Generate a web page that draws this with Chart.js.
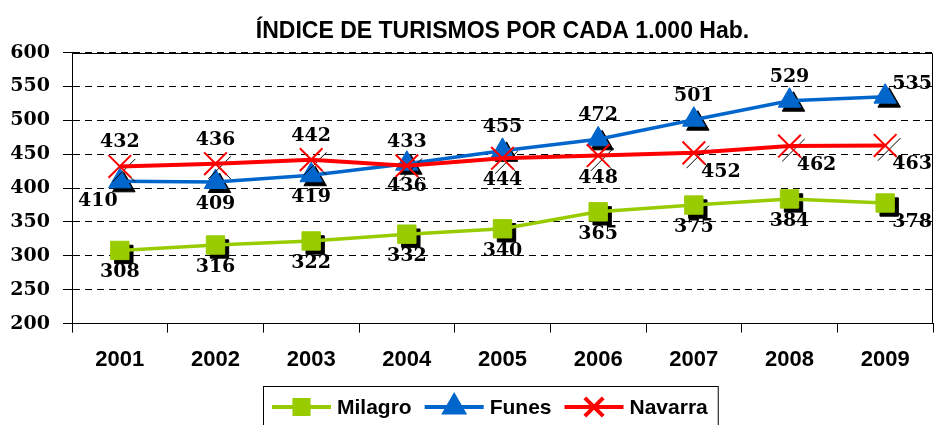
<!DOCTYPE html>
<html>
<head>
<meta charset="utf-8">
<script src="https://cdn.jsdelivr.net/npm/chart.js@4.4.0/dist/chart.umd.min.js"></script>
<style>
    html, body { margin: 0; padding: 0; background: #fff; }
    #wrap { width: 935px; height: 425px; }
</style>
</head>
<body>
<div id="wrap"><canvas id="chart-turismos" width="935" height="425"></canvas></div>
<script>
// values
const years = ['2001', '2002', '2003', '2004', '2005', '2006', '2007', '2008', '2009'];
const milagro = [308, 316, 322, 332, 340, 365, 375, 384, 378];
const funes = [410, 409, 419, 436, 455, 472, 501, 529, 535];
const navarra = [432, 436, 442, 433, 444, 448, 452, 462, 463];
const yMin = 200;
const yMax = 600;
const yStep = 50;
const title = 'ÍNDICE DE TURISMOS POR CADA 1.000 Hab.';

const SANS = '"Liberation Sans", Arial, sans-serif';
const SERIF = '"DejaVu Serif", serif';

// where each value label sits relative to its point
const labelOffsets = {
    t: [0, -24],
    b: [0, 22],
    rb: [27, 19],
    rt: [27, -13],
    lb: [-22, 20]
};

const shadowPoints = {
    id: 'shadowPoints',
    beforeDatasetDraw(chart, args) {
        const ctx = chart.ctx;
        ctx.save();
        ctx.fillStyle = '#000';
        ctx.strokeStyle = '#000';
        args.meta.data.forEach((el) => {
            const o = el.options;
            Chart.helpers.drawPoint(ctx, {
                pointStyle: o.pointStyle,
                radius: o.radius,
                borderWidth: o.borderWidth,
                rotation: o.rotation
            }, el.x + 4, el.y + 4);
        });
        ctx.restore();
    }
};

const plotFrame = {
    id: 'plotFrame',
    beforeDatasetsDraw(chart) {
        const {ctx, chartArea: a} = chart;
        ctx.save();
        ctx.strokeStyle = '#000';
        ctx.lineWidth = 1;
        ctx.beginPath();
        ctx.moveTo(a.left, Math.round(a.top) + 0.5);
        ctx.lineTo(Math.round(a.right) - 0.5, Math.round(a.top) + 0.5);
        ctx.lineTo(Math.round(a.right) - 0.5, a.bottom);
        ctx.stroke();
        ctx.restore();
    }
};

const valueLabels = {
    id: 'valueLabels',
    afterDatasetsDraw(chart) {
        const ctx = chart.ctx;
        ctx.save();
        ctx.font = 'bold 19px ' + SERIF;
        ctx.fillStyle = '#000';
        ctx.textAlign = 'center';
        ctx.textBaseline = 'middle';
        chart.data.datasets.forEach((ds, i) => {
            const meta = chart.getDatasetMeta(i);
            meta.data.forEach((el, j) => {
                const off = labelOffsets[ds.labelPos[j]];
                ctx.fillText(String(ds.data[j]), el.x + off[0], el.y + off[1]);
            });
        });
        ctx.restore();
    }
};

const boxLegend = {
    id: 'boxLegend',
    afterDraw(chart) {
        const ctx = chart.ctx;
        const sample = 59, gapText = 6, gapItem = 13, padL = 9, padR = 10;
        ctx.save();
        ctx.font = 'bold 21px ' + SANS;
        const items = chart.data.datasets.map((ds) => ({
            ds,
            w: ctx.measureText(ds.label).width
        }));
        let total = padL + padR;
        items.forEach((it, k) => {
            total += sample + gapText + it.w + (k < items.length - 1 ? gapItem : 0);
        });
        const a = chart.chartArea;
        const left = Math.round((a.left + a.right) / 2 - total / 2 - 12);
        const top = 386;
        const cy = 407;
        ctx.strokeStyle = '#000';
        ctx.lineWidth = 1;
        ctx.strokeRect(left + 0.5, top + 0.5, total, 60);
        let x = left + padL;
        items.forEach((it) => {
            const ds = it.ds;
            ctx.strokeStyle = ds.borderColor;
            ctx.lineWidth = 4;
            ctx.beginPath();
            ctx.moveTo(x, cy);
            ctx.lineTo(x + sample, cy);
            ctx.stroke();
            ctx.fillStyle = ds.pointBackgroundColor;
            ctx.strokeStyle = ds.pointBorderColor;
            Chart.helpers.drawPoint(ctx, {
                pointStyle: ds.pointStyle,
                radius: ds.legendRadius,
                borderWidth: ds.pointBorderWidth,
                rotation: 0
            }, x + sample / 2, cy);
            x += sample + gapText;
            ctx.fillStyle = '#000';
            ctx.textAlign = 'left';
            ctx.textBaseline = 'middle';
            ctx.fillText(ds.label, x, cy + 1);
            x += it.w + gapItem;
        });
        ctx.restore();
    }
};

const datasets = [{
    label: 'Milagro',
    data: milagro,
    borderColor: '#99CC00',
    backgroundColor: '#99CC00',
    borderWidth: 3.5,
    pointStyle: 'rect',
    pointRadius: 13,
    legendRadius: 10,
    pointBackgroundColor: '#99CC00',
    pointBorderColor: '#99CC00',
    pointBorderWidth: 1,
    labelPos: ['b', 'b', 'b', 'b', 'b', 'b', 'b', 'b', 'rb'],
    order: 2
}, {
    label: 'Funes',
    data: funes,
    borderColor: '#0066CC',
    backgroundColor: '#0066CC',
    borderWidth: 3.5,
    pointStyle: 'triangle',
    pointRadius: 13,
    legendRadius: 11,
    pointBackgroundColor: '#0066CC',
    pointBorderColor: '#0066CC',
    pointBorderWidth: 1,
    labelPos: ['lb', 'b', 'b', 'b', 't', 't', 't', 't', 'rt'],
    order: 1
}, {
    label: 'Navarra',
    data: navarra,
    borderColor: '#FF0000',
    backgroundColor: '#FF0000',
    borderWidth: 4,
    pointStyle: 'crossRot',
    pointRadius: 16,
    legendRadius: 13,
    pointBackgroundColor: '#FF0000',
    pointBorderColor: '#FF0000',
    pointBorderWidth: 2,
    labelPos: ['t', 't', 't', 't', 'b', 'b', 'rb', 'rb', 'rb'],
    order: 0
}];

datasets.forEach((ds) => {
    ds.tension = 0;
    ds.clip = false;
    ds.pointHoverRadius = ds.pointRadius;
});

const chart = new Chart(document.getElementById('chart-turismos'), {
    type: 'line',
    data: {
        labels: years,
        datasets
    },
    plugins: [plotFrame, shadowPoints, valueLabels, boxLegend],
    options: {
        responsive: false,
        animation: false,
        devicePixelRatio: 1,
        layout: {
            autoPadding: false,
            padding: {left: 0, right: 2, top: 0, bottom: 38}
        },
        plugins: {
            legend: {display: false},
            tooltip: {enabled: false},
            title: {
                display: true,
                fullSize: false,
                text: title,
                color: '#000',
                font: {family: SANS, size: 23, weight: 'bold'},
                padding: {top: 18, bottom: 7}
            }
        },
        scales: {
            x: {
                offset: true,
                grid: {
                    display: true,
                    offset: true,
                    drawOnChartArea: false,
                    drawTicks: true,
                    tickLength: 9,
                    tickColor: '#000',
                    tickWidth: 1
                },
                border: {display: true, color: '#000', width: 1},
                ticks: {
                    color: '#000',
                    padding: 14,
                    maxRotation: 0,
                    font: {family: SANS, size: 22, weight: 'bold'}
                }
            },
            y: {
                min: yMin,
                max: yMax,
                afterFit(scale) {
                    scale.width = 72;
                },
                grid: {
                    color: '#000',
                    lineWidth: 1,
                    drawTicks: true,
                    tickLength: 9,
                    tickColor: '#000',
                    tickBorderDash: []
                },
                border: {display: true, color: '#000', width: 1, dash: [7, 5]},
                ticks: {
                    stepSize: yStep,
                    color: '#000',
                    padding: 13,
                    font: {family: SERIF, size: 19, weight: 'bold'}
                }
            }
        }
    }
});
</script>
</body>
</html>
